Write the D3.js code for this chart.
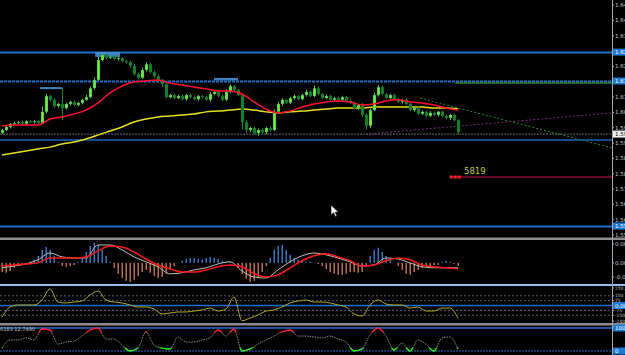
<!DOCTYPE html>
<html>
<head>
<meta charset="utf-8">
<script src="https://cdn.jsdelivr.net/npm/d3@7"></script>
<style>
  body { margin: 0; background: #000; }
  svg { display: block; }
</style>
</head>
<body>
<div id="chart"></div>
<script>
// ---- price bars (one close per bar, open = previous close) ----
var firstOpen = 1.5960;
var closes = [
  1.5971, 1.5983, 1.5995, 1.5998, 1.6002, 1.5995, 1.6006, 1.6002, 1.6006, 1.5998,
  1.6042, 1.6104, 1.6089, 1.6065, 1.6073, 1.6057, 1.6073, 1.6081, 1.6069, 1.6077,
  1.6089, 1.6100, 1.6135, 1.6167, 1.6245, 1.6265, 1.6253, 1.6257, 1.6249, 1.6253,
  1.6241, 1.6237, 1.6222, 1.6190, 1.6175, 1.6206, 1.6229, 1.6198, 1.6182, 1.6167,
  1.6151, 1.6100, 1.6108, 1.6096, 1.6104, 1.6092, 1.6108, 1.6100, 1.6092, 1.6104,
  1.6100, 1.6089, 1.6112, 1.6120, 1.6104, 1.6089, 1.6120, 1.6143, 1.6128, 1.6108,
  1.6002, 1.5971, 1.5979, 1.5959, 1.5971, 1.5963, 1.5979, 1.5971, 1.6042, 1.6073,
  1.6089, 1.6077, 1.6096, 1.6104, 1.6092, 1.6108, 1.6120, 1.6104, 1.6135, 1.6112,
  1.6096, 1.6104, 1.6089, 1.6096, 1.6089, 1.6100, 1.6085, 1.6077, 1.6057, 1.6069,
  1.6030, 1.5987, 1.6049, 1.6108, 1.6139, 1.6112, 1.6096, 1.6108, 1.6092, 1.6081,
  1.6089, 1.6073, 1.6049, 1.6057, 1.6034, 1.6042, 1.6026, 1.6038, 1.6030, 1.6042,
  1.6026, 1.6018, 1.6030, 1.6010, 1.5963
];
// wick lengths in pips
var wickUp = [
  4,5,3,6,4,5,3,4,5,3, 20,8,5,6,4,62,5,4,6,3, 5,8,6,10,12,6,5,4,6,5,
  4,5,6,8,6,10,7,5,6,5, 4,6,5,4,6,5,4,6,5,4, 5,6,8,4,5,6,10,6,5,4,
  6,8,5,4,6,5,4,6,10,8, 6,4,5,6,4,5,8,6,10,5, 4,6,5,4,6,5,4,6,5,4,
  8,6,5,10,8,6,5,4,6,5, 4,6,5,4,6,5,4,6,5,4, 5,6,4,5,3
];
var wickDn = [
  5,4,6,3,5,4,6,3,5,4, 4,6,5,8,6,47,5,6,4,5, 6,4,5,6,4,5,6,4,5,6,
  5,6,8,6,5,4,6,5,6,8, 12,6,5,6,4,5,6,4,5,6, 4,5,6,4,5,6,4,5,6,5,
  28,10,8,6,10,6,8,5,4,5, 6,4,5,6,4,5,6,4,5,6, 4,5,6,4,5,6,4,5,6,8,
  6,15,8,4,6,5,4,6,5,4, 6,5,4,6,5,4,6,5,4,6, 5,6,8,6,10
];

// ---- moving averages, sampled every 3 bars ----
var maIdx = d3.range(0, 115, 3);
var maFast = [
  1.5987, 1.5991, 1.5991, 1.5991, 1.6014, 1.6022, 1.6034, 1.6049, 1.6077, 1.6116,
  1.6143, 1.6159, 1.6163, 1.6167, 1.6155, 1.6147, 1.6139, 1.6132, 1.6124, 1.6124,
  1.6112, 1.6081, 1.6053, 1.6038, 1.6045, 1.6061, 1.6073, 1.6081, 1.6085, 1.6081,
  1.6069, 1.6073, 1.6085, 1.6089, 1.6081, 1.6077, 1.6069, 1.6057, 1.6049
];
var maSlow = [
  1.5873, 1.5881, 1.5889, 1.5897, 1.5904, 1.5916, 1.5924, 1.5936, 1.5951, 1.5967,
  1.5983, 1.6002, 1.6014, 1.6022, 1.6026, 1.6030, 1.6034, 1.6042, 1.6045, 1.6049,
  1.6053, 1.6049, 1.6042, 1.6038, 1.6042, 1.6045, 1.6049, 1.6053, 1.6057, 1.6057,
  1.6057, 1.6061, 1.6061, 1.6061, 1.6061, 1.6061, 1.6057, 1.6057, 1.6053
];

// ---- MACD ----
var macdHist = [
  -0.0026,-0.0028,-0.0023,-0.0014,-0.0006,-0.0003, 0.0000, 0.0003, 0.0009, 0.0020,
   0.0037, 0.0045, 0.0037, 0.0020, 0.0003,-0.0009,-0.0011,-0.0009,-0.0006, 0.0003,
   0.0014, 0.0031, 0.0048, 0.0057, 0.0051, 0.0037, 0.0020, 0.0003,-0.0014,-0.0031,
  -0.0043,-0.0051,-0.0054,-0.0048,-0.0037,-0.0026,-0.0020,-0.0028,-0.0037,-0.0043,
  -0.0040,-0.0031,-0.0020,-0.0009, 0.0000, 0.0006, 0.0011, 0.0014, 0.0014, 0.0011,
   0.0009, 0.0014, 0.0017, 0.0014, 0.0011, 0.0006, 0.0003, 0.0003, 0.0000,-0.0014,
  -0.0031,-0.0045,-0.0054,-0.0051,-0.0043,-0.0026,-0.0009, 0.0014, 0.0037, 0.0048,
   0.0051, 0.0037, 0.0023, 0.0014, 0.0009, 0.0006, 0.0003, 0.0003, 0.0000,-0.0003,
  -0.0009,-0.0017,-0.0026,-0.0031,-0.0034,-0.0034,-0.0031,-0.0026,-0.0026,-0.0028,
  -0.0026,-0.0009, 0.0020, 0.0037, 0.0043, 0.0031, 0.0020, 0.0009, 0.0000,-0.0009,
  -0.0020,-0.0031,-0.0034,-0.0026,-0.0020,-0.0014,-0.0011,-0.0009,-0.0006,-0.0006,
   0.0003, 0.0006, 0.0003,-0.0003,-0.0009
];
var macdLine = [
  -0.0014,-0.0009,-0.0003, 0.0009, 0.0028, 0.0017, 0.0014, 0.0014, 0.0051, 0.0051,
   0.0037, 0.0017, 0.0003,-0.0011,-0.0031,-0.0028,-0.0020,-0.0014,-0.0003, 0.0003,
  -0.0023,-0.0040,-0.0043,-0.0020, 0.0003, 0.0020, 0.0028, 0.0023, 0.0014, 0.0003,
  -0.0009,-0.0006, 0.0014, 0.0011, 0.0000,-0.0011,-0.0014,-0.0014,-0.0014
];
var macdSignal = [
  -0.0009,-0.0006,-0.0003, 0.0000, 0.0014, 0.0014, 0.0014, 0.0017, 0.0034, 0.0048,
   0.0045, 0.0031, 0.0011,-0.0006,-0.0017,-0.0026,-0.0026,-0.0020,-0.0011,-0.0006,
  -0.0011,-0.0031,-0.0040,-0.0034,-0.0014, 0.0006, 0.0020, 0.0026, 0.0017, 0.0006,
  -0.0009,-0.0006, 0.0006, 0.0014, 0.0009,-0.0006,-0.0011,-0.0014,-0.0017
];

// ---- CCI and oscillator, sampled every 2 bars ----
var oscIdx = d3.range(0, 115, 2);
var cciVals = [
  -180, -23, 8, 8, 8, 85, 255, 54, 39, 54,
  69, 162, 224, 85, 54, 39, 8, -23, -23, -54,
  -131, -116, -100, -100, -85, -69, -39, -85, -54, 131,
  -235, -193, -147, -85, -69, -23, 39, 69, 85, 54,
  54, 39, 8, -23, -131, -162, 8, 85, 23, 8,
  8, -39, -23, -85, -85, -39, -39, -200
];
var stochVals = [
  13, 48, 48, 57, 48, 96, 91, 30, 39, 43,
  65, 91, 100, 52, 52, 26, 0, 13, 83, 26,
  13, 9, 61, 39, 39, 48, 57, 91, 65, 96,
  0, 9, 30, 48, 65, 83, 91, 65, 65, 61,
  57, 65, 52, 39, 0, 9, 70, 100, 65, 4,
  35, 0, 48, 30, 0, 57, 61, 9
];

// ---- axis ticks and levels ----
var priceTicks = [1.6460, 1.6400, 1.6340, 1.6280, 1.6220, 1.6160, 1.6100, 1.6040,
                  1.5980, 1.5920, 1.5860, 1.5800, 1.5740, 1.5680, 1.5620, 1.5560];
var blueLevels = [1.6276, 1.6163, 1.5595];
var boxedLevels = [1.6276, 1.6163, 1.5595];
var supportLevel = 1.5932;
var bidPrice = 1.5955;
var greenLevel = 1.6155;
var redLevel = 1.5787;
var redLevelText = "5819";
var macdTicks = [0.0054, 0, -0.0040];
var macdTickText = ["0.005412", "0.00", "-0.003955"];
var cciTicks = [270.3, 150, 75, -75, -150, -240.6];
var cciLevels = [150, 75, -75, -150];
var stochText = "6183 12.7490";
// range boxes: [fromBar, toBar, top price, bottom price]
var rangeMarks = [[9.5, 15, 1.6139, 1.6131], [23.3, 29.5, 1.6276, 1.6257], [53, 59, 1.6175, 1.6165]];
// trend lines: [bar0, price0, bar1, price1]
var greenTrend = [104.5, 1.6096, 152.5, 1.5901];
var purpleTrend = [91, 1.5955, 152.5, 1.6038];

var W = 625, H = 355, axisX = 612;

var svg = d3.select("#chart").append("svg")
    .attr("width", W)
    .attr("height", H)
    .style("background", "#000");

var x = d3.scaleLinear().domain([0, 114]).range([2, 458]);
var yP = d3.scaleLinear().domain([1.5556, 1.6480]).range([236, 0]);
var yM = d3.scaleLinear().domain([-0.0060, 0.0065]).range([284, 240]);
var yC = d3.scaleLinear().domain([-254.6, 285.5]).range([322, 287]);
var yS = d3.scaleLinear().domain([0, 100]).range([351, 328]);

var font = "DejaVu Sans";

// ---- price pane ----
var pane = svg.append("g");

// support / resistance lines
pane.selectAll(".blv").data(blueLevels).enter().append("line")
    .attr("x1", 0).attr("x2", axisX)
    .attr("y1", function(d) { return Math.round(yP(d)) + 0.5; })
    .attr("y2", function(d) { return Math.round(yP(d)) + 0.5; })
    .attr("stroke", "#1f6fcc")
    .attr("stroke-width", 2)
    .attr("stroke-dasharray", function(d, i) { return i == 1 ? "3,1" : null; });

pane.append("line")
    .attr("x1", 0).attr("x2", axisX)
    .attr("y1", yP(supportLevel)).attr("y2", yP(supportLevel))
    .attr("stroke", "#1d64b8").attr("stroke-width", 1.5);

pane.append("line")
    .attr("x1", 0).attr("x2", axisX)
    .attr("y1", yP(bidPrice)).attr("y2", yP(bidPrice))
    .attr("stroke", "#555").attr("stroke-width", 1.2)
    .attr("stroke-dasharray", "2,1");

pane.append("line")
    .attr("x1", x(113.3)).attr("x2", axisX)
    .attr("y1", yP(greenLevel)).attr("y2", yP(greenLevel))
    .attr("stroke", "#3cc03c").attr("stroke-width", 1);

pane.append("line")
    .attr("x1", x(112)).attr("x2", axisX)
    .attr("y1", yP(redLevel)).attr("y2", yP(redLevel))
    .attr("stroke", "#d01050").attr("stroke-width", 1.2);

pane.selectAll(".rsq").data([112.3, 113.3, 114.3]).enter().append("rect")
    .attr("x", function(d) { return x(d) - 1.5; })
    .attr("y", yP(redLevel) - 1.5)
    .attr("width", 3).attr("height", 3)
    .attr("fill", "#ff2030");

pane.append("text")
    .attr("x", x(115.5))
    .attr("y", yP(redLevel) - 3)
    .style("font-family", font)
    .style("font-size", "8.5px")
    .style("fill", "#c8c83a")
    .text(redLevelText);

// trend lines
[[greenTrend, "#1f8a1f"], [purpleTrend, "#7a2a7a"]].forEach(function(t) {
  var d = t[0];
  pane.append("line")
      .attr("x1", x(d[0])).attr("y1", yP(d[1]))
      .attr("x2", x(d[2])).attr("y2", yP(d[3]))
      .attr("stroke", t[1]).attr("stroke-width", 1)
      .attr("stroke-dasharray", "2,2");
});

// range marks
pane.selectAll(".rm").data(rangeMarks).enter().append("rect")
    .attr("x", function(d) { return x(d[0]); })
    .attr("y", function(d) { return yP(d[2]); })
    .attr("width", function(d) { return x(d[1]) - x(d[0]); })
    .attr("height", function(d) { return Math.max(2, yP(d[3]) - yP(d[2])); })
    .attr("fill", "#4b95da")
    .attr("opacity", 0.85);

// moving averages
var maLine = function(vals) {
  return d3.line()
      .x(function(d, i) { return x(maIdx[i]); })
      .y(function(d) { return yP(d); })
      .curve(d3.curveMonotoneX)(vals);
};
pane.append("path").attr("d", maLine(maSlow))
    .attr("fill", "none").attr("stroke", "#e6df1e").attr("stroke-width", 1.5);

// candles
var bars = closes.map(function(c, i) {
  var o = i == 0 ? firstOpen : closes[i - 1];
  return {
    i: i, o: o, c: c,
    h: Math.max(o, c) + wickUp[i] * 0.0001,
    l: Math.min(o, c) - wickDn[i] * 0.0001
  };
});
var candle = pane.selectAll(".cd").data(bars).enter().append("g");
candle.append("line")
    .attr("x1", function(d) { return x(d.i) + 0.5; })
    .attr("x2", function(d) { return x(d.i) + 0.5; })
    .attr("y1", function(d) { return yP(d.h); })
    .attr("y2", function(d) { return yP(d.l); })
    .attr("stroke", function(d) { return d.c >= d.o ? "#4fd82e" : "#17901c"; })
    .attr("stroke-width", 1);
candle.append("rect")
    .attr("x", function(d) { return x(d.i) - 1; })
    .attr("y", function(d) { return yP(Math.max(d.o, d.c)); })
    .attr("width", 3)
    .attr("height", function(d) { return Math.max(1, Math.abs(yP(d.o) - yP(d.c))); })
    .attr("fill", function(d) { return d.c >= d.o ? "#6cf23c" : "#128a1a"; })
    .attr("stroke", "#0b3a6a")
    .attr("stroke-width", 0.3);

pane.append("path").attr("d", maLine(maFast))
    .attr("fill", "none").attr("stroke", "#ff1030").attr("stroke-width", 1.5);

// ---- MACD pane ----
svg.selectAll(".hb").data(macdHist).enter().append("rect")
    .attr("x", function(d, i) { return x(i) - 0.5; })
    .attr("y", function(d) { return Math.min(yM(d), yM(0)); })
    .attr("width", 1.5)
    .attr("height", function(d) { return Math.abs(yM(d) - yM(0)); })
    .attr("fill", function(d) { return d >= 0 ? "#2f78c0" : "#b86e50"; });

var mLine = d3.line()
    .x(function(d, i) { return x(maIdx[i]); })
    .y(function(d) { return yM(d); })
    .curve(d3.curveMonotoneX);
svg.append("path").attr("d", mLine(macdLine))
    .attr("fill", "none").attr("stroke", "#bdbdbd").attr("stroke-width", 1);
svg.append("path").attr("d", mLine(macdSignal))
    .attr("fill", "none").attr("stroke", "#ff1818").attr("stroke-width", 1.5);

// ---- CCI pane ----
svg.selectAll(".cl").data(cciLevels).enter().append("line")
    .attr("x1", 0).attr("x2", axisX)
    .attr("y1", function(d) { return yC(d); })
    .attr("y2", function(d) { return yC(d); })
    .attr("stroke", "#7a7a7a").attr("stroke-width", 0.8)
    .attr("stroke-dasharray", "2,2");
svg.append("line")
    .attr("x1", 0).attr("x2", axisX)
    .attr("y1", yC(0)).attr("y2", yC(0))
    .attr("stroke", "#1f6fcc").attr("stroke-width", 1.5);

var oLine = function(scale) {
  return d3.line()
      .x(function(d, i) { return x(oscIdx[i]); })
      .y(function(d) { return scale(d); })
      .curve(d3.curveMonotoneX);
};
svg.append("path").attr("d", oLine(yC)(cciVals))
    .attr("fill", "none").attr("stroke", "#aaa722").attr("stroke-width", 1);

// ---- oscillator pane ----
svg.append("line")
    .attr("x1", 0).attr("x2", axisX)
    .attr("y1", yS(100)).attr("y2", yS(100))
    .attr("stroke", "#1f6fcc").attr("stroke-width", 1.5);
svg.append("line")
    .attr("x1", 0).attr("x2", axisX)
    .attr("y1", yS(0)).attr("y2", yS(0))
    .attr("stroke", "#1f6fcc").attr("stroke-width", 1.2)
    .attr("stroke-dasharray", "2,1");

var defs = svg.append("defs");
defs.append("clipPath").attr("id", "clipHi").append("rect")
    .attr("x", 0).attr("y", 320).attr("width", W).attr("height", yS(80) - 320);
defs.append("clipPath").attr("id", "clipLo").append("rect")
    .attr("x", 0).attr("y", yS(15)).attr("width", W).attr("height", H - yS(15));

var sPath = oLine(yS)(stochVals);
svg.append("path").attr("d", sPath)
    .attr("fill", "none").attr("stroke", "#8a8a8a").attr("stroke-width", 1)
    .attr("stroke-dasharray", "1.5,1");
svg.append("path").attr("d", sPath).attr("clip-path", "url(#clipHi)")
    .attr("fill", "none").attr("stroke", "#ff1a3c").attr("stroke-width", 1.5);
svg.append("path").attr("d", sPath).attr("clip-path", "url(#clipLo)")
    .attr("fill", "none").attr("stroke", "#22ee22").attr("stroke-width", 1.5);

svg.append("text")
    .attr("x", 0).attr("y", 331)
    .style("font-family", font).style("font-size", "5px")
    .style("fill", "#c8c8c8")
    .text(stochText);

// ---- separators ----
svg.append("rect").attr("x", 0).attr("y", 237.5).attr("width", W).attr("height", 2.5).attr("fill", "#8e8e8e");
svg.append("rect").attr("x", 0).attr("y", 284).attr("width", W).attr("height", 2).attr("fill", "#8fbde8");
svg.append("rect").attr("x", 0).attr("y", 323).attr("width", W).attr("height", 2.5).attr("fill", "#8e8e8e");

// ---- right axis ----
svg.append("line")
    .attr("x1", axisX + 0.5).attr("x2", axisX + 0.5)
    .attr("y1", 0).attr("y2", H)
    .attr("stroke", "#a8a8a8").attr("stroke-width", 1);

function axisLabels(vals, scale, fmt, size) {
  var g = svg.append("g");
  g.selectAll("line").data(vals).enter().append("line")
      .attr("x1", axisX).attr("x2", axisX + 2)
      .attr("y1", function(d) { return scale(d); })
      .attr("y2", function(d) { return scale(d); })
      .attr("stroke", "#a8a8a8");
  g.selectAll("text").data(vals).enter().append("text")
      .attr("x", axisX + 3)
      .attr("y", function(d) { return scale(d) + size / 2.8; })
      .style("font-family", font).style("font-size", size + "px")
      .style("fill", "#c8c8c8")
      .text(fmt);
}
axisLabels(priceTicks, yP, function(d) { return d.toFixed(4); }, 5.5);
axisLabels(macdTicks, yM, function(d, i) { return macdTickText[i]; }, 5.5);
axisLabels(cciTicks, yC, function(d) { return d % 1 ? d.toFixed(1) : d; }, 4.4);

function boxLabel(y, txt, bg, fg) {
  svg.append("rect")
      .attr("x", axisX + 1).attr("y", y - 3.5)
      .attr("width", W - axisX).attr("height", 7)
      .attr("fill", bg);
  svg.append("text")
      .attr("x", axisX + 3).attr("y", y + 2)
      .style("font-family", font).style("font-size", "5.5px")
      .style("fill", fg)
      .text(txt);
}
boxedLevels.forEach(function(d) { boxLabel(yP(d), d.toFixed(4), "#1f78d2", "#ffffff"); });
boxLabel(yP(bidPrice), bidPrice.toFixed(4), "#f0f0f0", "#000000");
boxLabel(yC(0), "0.00", "#1f78d2", "#ffffff");
boxLabel(yS(100), "100", "#1f78d2", "#ffffff");
boxLabel(yS(0), "0", "#1f78d2", "#ffffff");

// mouse pointer
svg.append("path")
    .attr("d", "M331,205 L331,215 L333.5,212.8 L335.5,216.8 L337,216.1 L335.1,212.2 L338.4,212 Z")
    .attr("fill", "#ffffff").attr("stroke", "#000").attr("stroke-width", 0.6);
</script>
</body>
</html>
